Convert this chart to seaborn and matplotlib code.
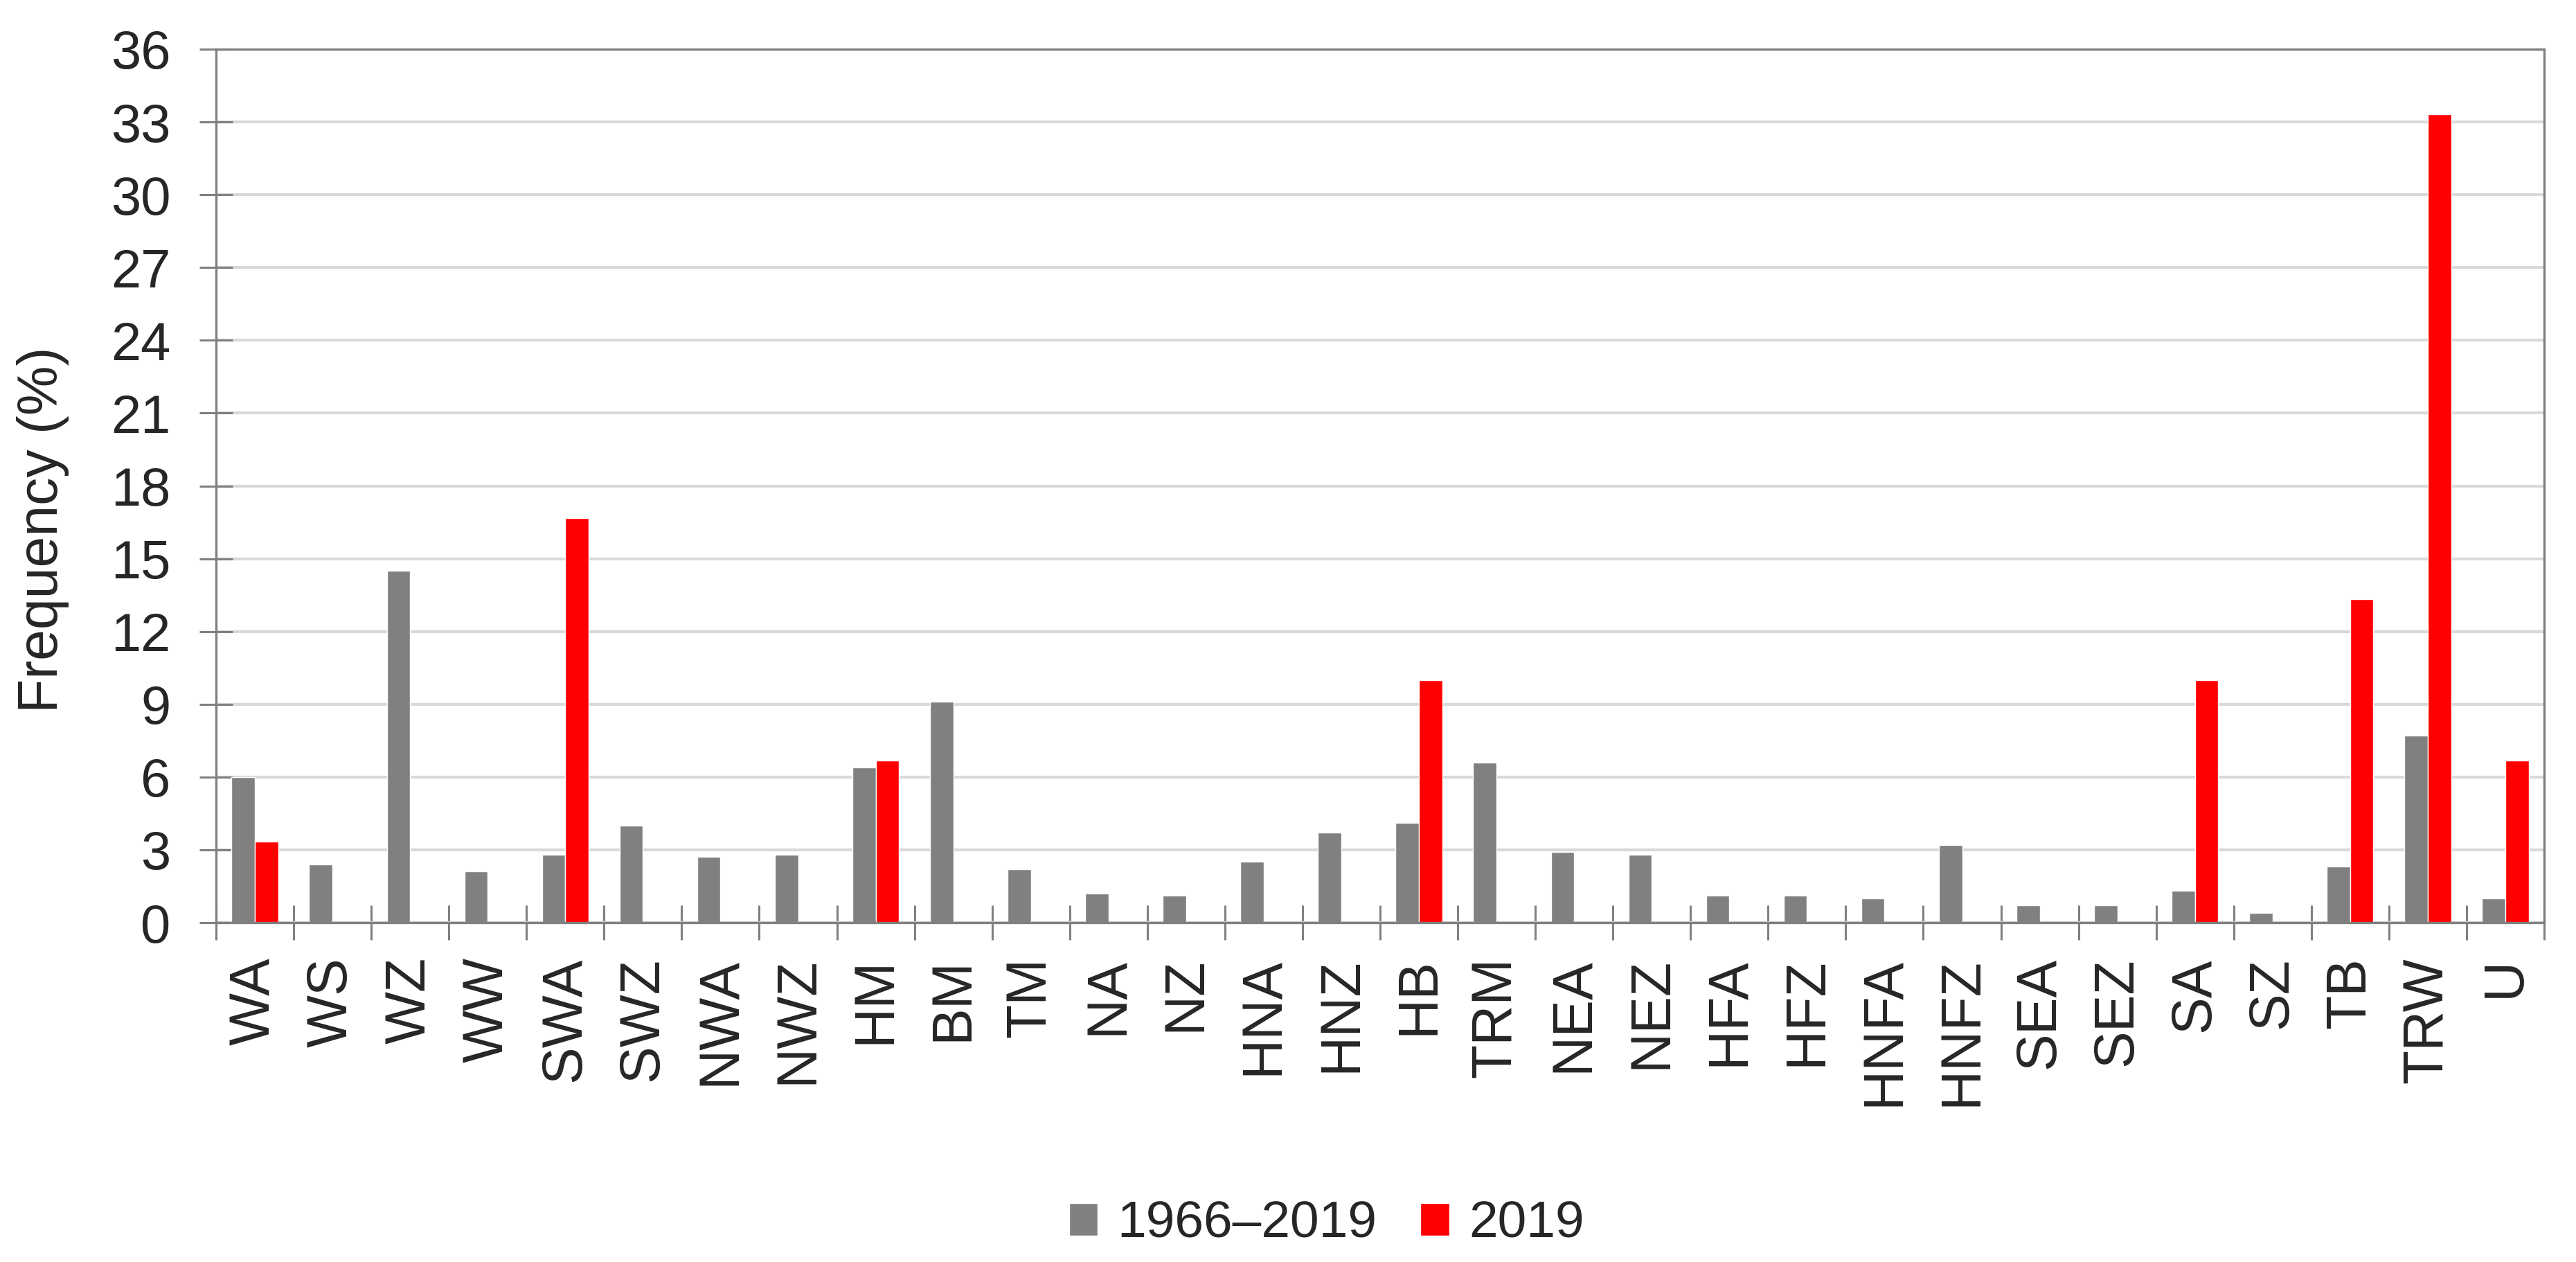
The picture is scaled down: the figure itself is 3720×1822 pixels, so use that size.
import numpy as np
import pandas as pd
import matplotlib
matplotlib.use("Agg")
import matplotlib.pyplot as plt
from matplotlib.ticker import FixedLocator
import seaborn as sns

# ---- data ----
categories = ["WA", "WS", "WZ", "WW", "SWA", "SWZ", "NWA", "NWZ", "HM", "BM",
              "TM", "NA", "NZ", "HNA", "HNZ", "HB", "TRM", "NEA", "NEZ", "HFA",
              "HFZ", "HNFA", "HNFZ", "SEA", "SEZ", "SA", "SZ", "TB", "TRW", "U"]
freq_1966_2019 = [6.0, 2.4, 14.5, 2.1, 2.8, 4.0, 2.7, 2.8, 6.4, 9.1,
                  2.2, 1.2, 1.1, 2.5, 3.7, 4.1, 6.6, 2.9, 2.8, 1.1,
                  1.1, 1.0, 3.2, 0.7, 0.7, 1.3, 0.4, 2.3, 7.7, 1.0]
freq_2019 = [3.33, 0, 0, 0, 16.67, 0, 0, 0, 6.67, 0,
             0, 0, 0, 0, 0, 10.0, 0, 0, 0, 0,
             0, 0, 0, 0, 0, 10.0, 0, 13.33, 33.33, 6.67]
series_names = ["1966\u20132019", "2019"]
y_ticks = list(range(0, 37, 3))

df = pd.DataFrame({
    "Type": categories * 2,
    "Frequency": freq_1966_2019 + freq_2019,
    "Period": [series_names[0]] * len(categories) + [series_names[1]] * len(categories),
})

sns.set_style("white")
plt.rcParams["font.family"] = ["Liberation Sans", "DejaVu Sans"]

fig = plt.figure(figsize=(37.2, 18.22), dpi=100)
ax = fig.add_axes([312 / 3720, 1 - 1332 / 1822, (3674 - 312) / 3720, (1332 - 71) / 1822])

sns.barplot(data=df, x="Type", y="Frequency", hue="Period",
            palette=["#808080", "#FF0000"], saturation=1, width=0.6,
            order=categories, hue_order=series_names, ax=ax, legend=True)

ax.set_ylim(0, 36)
ax.set_xlim(-0.5, len(categories) - 0.5)
ax.yaxis.set_major_locator(FixedLocator(y_ticks))
ax.set_yticklabels([str(t) for t in y_ticks], fontsize=56)
ax.grid(axis="y", color="#d9d9d9", linewidth=3)
ax.set_axisbelow(True)

for s in ax.spines.values():
    s.set_visible(True)
    s.set_color("#808080")
    s.set_linewidth(2.4)

ax.tick_params(axis="y", direction="inout", length=34, width=2.2, color="#808080",
               pad=30, labelsize=56, left=True)
ax.tick_params(axis="x", which="major", length=0, pad=36, labelsize=58, rotation=90)
ax.xaxis.set_minor_locator(FixedLocator(np.arange(-0.5, len(categories), 1.0)))
ax.tick_params(axis="x", which="minor", direction="inout", length=36, width=2.2,
               color="#808080", bottom=True)

ax.set_xlabel("")
ax.set_ylabel("Frequency (%)", fontsize=58)
ax.yaxis.set_label_coords(-0.063, 0.45)

handles, labels = ax.get_legend_handles_labels()
ax.get_legend().remove()
fig.legend(handles, labels, loc="center", bbox_to_anchor=(0.515, 0.03), ncol=2,
           frameon=False, fontsize=54, handlelength=0.55, handleheight=0.6,
           handletextpad=0.38, columnspacing=0.84)

fig.savefig("out.png", dpi=100, facecolor="white")
